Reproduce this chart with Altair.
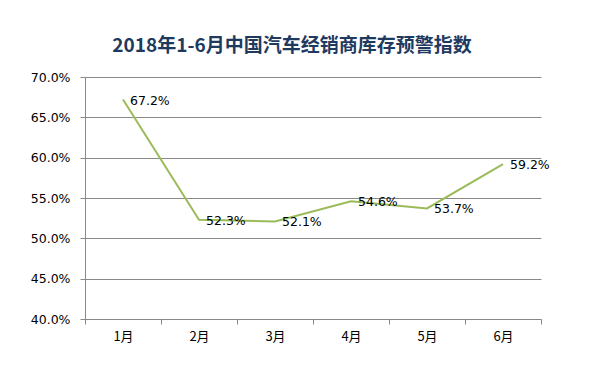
import altair as alt
import pandas as pd

months = ["1月", "2月", "3月", "4月", "5月", "6月"]
values = [67.2, 52.3, 52.1, 54.6, 53.7, 59.2]
labels = ["67.2%", "52.3%", "52.1%", "54.6%", "53.7%", "59.2%"]
y_ticks = [40, 45, 50, 55, 60, 65, 70]

df = pd.DataFrame({"month": months, "value": values, "label": labels})

W, H = 456, 242
grid_color = "#898989"
line_color = "#9BBB59"

x = alt.X(
    "month:N",
    sort=months,
    scale=alt.Scale(paddingInner=0, paddingOuter=0),
    axis=alt.Axis(
        title=None,
        labelAngle=0,
        ticks=True,
        tickBand="extent",
        tickSize=5,
        tickColor=grid_color,
        domainColor=grid_color,
        labelPadding=6,
        labelFont="Noto Sans CJK SC",
        labelFontSize=13,
        labelColor="#000000",
        grid=False,
    ),
)
y = alt.Y(
    "value:Q",
    scale=alt.Scale(domain=[40, 70], nice=False, zero=False),
    axis=alt.Axis(
        title=None,
        values=y_ticks,
        labelExpr="format(datum.value, '.1f') + '%'",
        tickSize=5,
        tickColor=grid_color,
        domainColor=grid_color,
        gridColor=grid_color,
        gridOpacity=1,
        labelPadding=10,
        labelFont="DejaVu Sans",
        labelFontSize=12.5,
        labelColor="#000000",
    ),
)

base = alt.Chart(df).encode(x=x, y=y)

line = base.mark_line(color=line_color, strokeWidth=2)

text = base.mark_text(
    align="left", baseline="middle", dx=7, dy=1,
    font="DejaVu Sans", fontSize=12.5, color="#000000",
).encode(text="label:N")

chart = alt.layer(line, text).properties(
    width=W,
    height=H,
    autosize=alt.AutoSizeParams(type="none"),
    padding={"left": 77, "top": 69, "right": 40, "bottom": 40},
    title=alt.TitleParams(
        "2018年1-6月中国汽车经销商库存预警指数",
        font="Noto Sans CJK SC",
        fontSize=19,
        fontWeight="bold",
        color="#1F3A5F",
        anchor="middle",
        dx=-21,
        offset=15,
    ),
).configure_view(stroke=None)

chart.save("out.html", embed_options={"renderer": "svg", "actions": False})
